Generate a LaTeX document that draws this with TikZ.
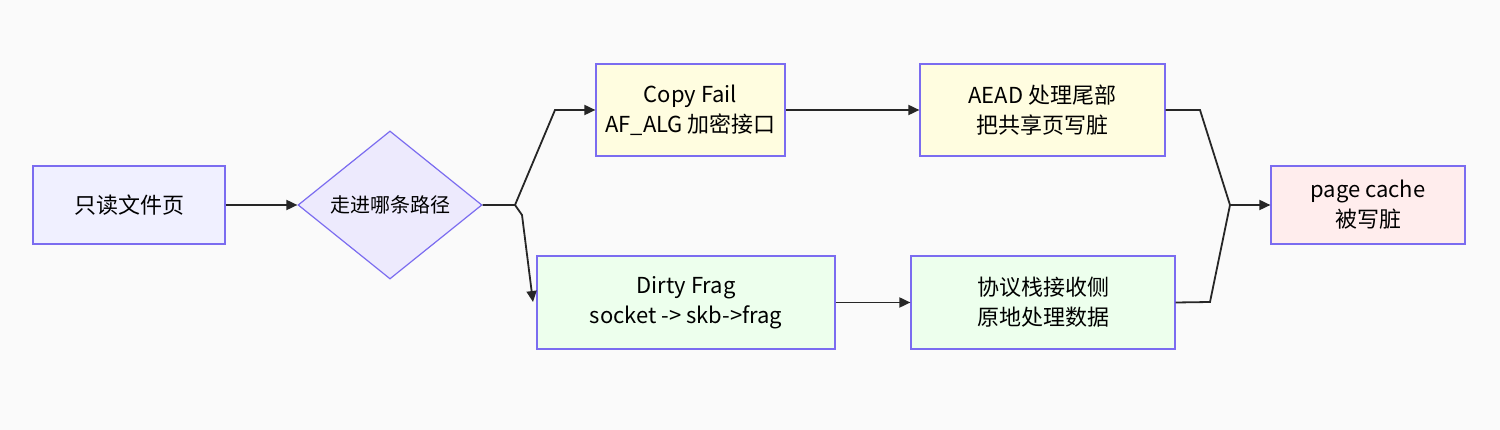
\documentclass[tikz,border=0pt]{standalone}
\usepackage{fontspec}
\setmainfont{Noto Sans CJK SC}
\usetikzlibrary{shapes.geometric,arrows.meta}
\definecolor{bd}{HTML}{7B6CF0}
\definecolor{bg}{HTML}{FAFAFA}
\begin{document}
\begin{tikzpicture}[x=1pt,y=-1pt,
 box/.style={draw=bd,line width=1.2pt,align=center,font=\fontsize{22}{30}\selectfont,inner sep=0pt},
 ln/.style={draw=black!85,line width=1.8pt,-{Triangle[length=11pt,width=10pt]}}]
\fill[bg] (0,0) rectangle (1500,430);
\useasboundingbox (0,0) rectangle (1500,430);
\node[box,fill=blue!6,minimum width=192pt,minimum height=78pt] (a) at (129,205) {只读文件页};
\node[box,diamond,fill=bd!14,minimum width=184pt,minimum height=148pt,aspect=1.25,font=\fontsize{20}{26}\selectfont] (d) at (390,205) {走进哪条路径};
\node[box,fill=yellow!12,minimum width=189pt,minimum height=92pt] (c) at (690.5,110) {Copy Fail\\AF\_ALG 加密接口};
\node[box,fill=yellow!12,minimum width=245pt,minimum height=92pt] (e) at (1042.5,110) {AEAD 处理尾部\\把共享页写脏};
\node[box,fill=green!7,minimum width=298pt,minimum height=93pt] (f) at (686,302.5) {Dirty Frag\\socket -> skb->frag};
\node[box,fill=green!7,minimum width=264pt,minimum height=93pt] (g) at (1043,302.5) {协议栈接收侧\\原地处理数据};
\node[box,fill=red!7,minimum width=194pt,minimum height=78pt] (p) at (1368,205) {page cache\\被写脏};
\coordinate (j1) at (515,205);
\coordinate (j2) at (1230,205);
\coordinate (t1) at (533,302);
\draw[ln] (a) -- (d);
\draw[ln] (d.east) -- (j1) -- (555,110) -- (c.west);
\draw[ln] (j1) -- (522,215) -- (t1);
\draw[ln] (c) -- (e);
\draw[ln] (f) -- (g);
\draw[line width=1.8pt,draw=black!85] (e.east) -- (1200,110) -- (j2);
\draw[line width=1.8pt,draw=black!85] (g.east) -- (1210,302) -- (j2);
\draw[ln] (j2) -- (p.west);
\end{tikzpicture}
\end{document}
